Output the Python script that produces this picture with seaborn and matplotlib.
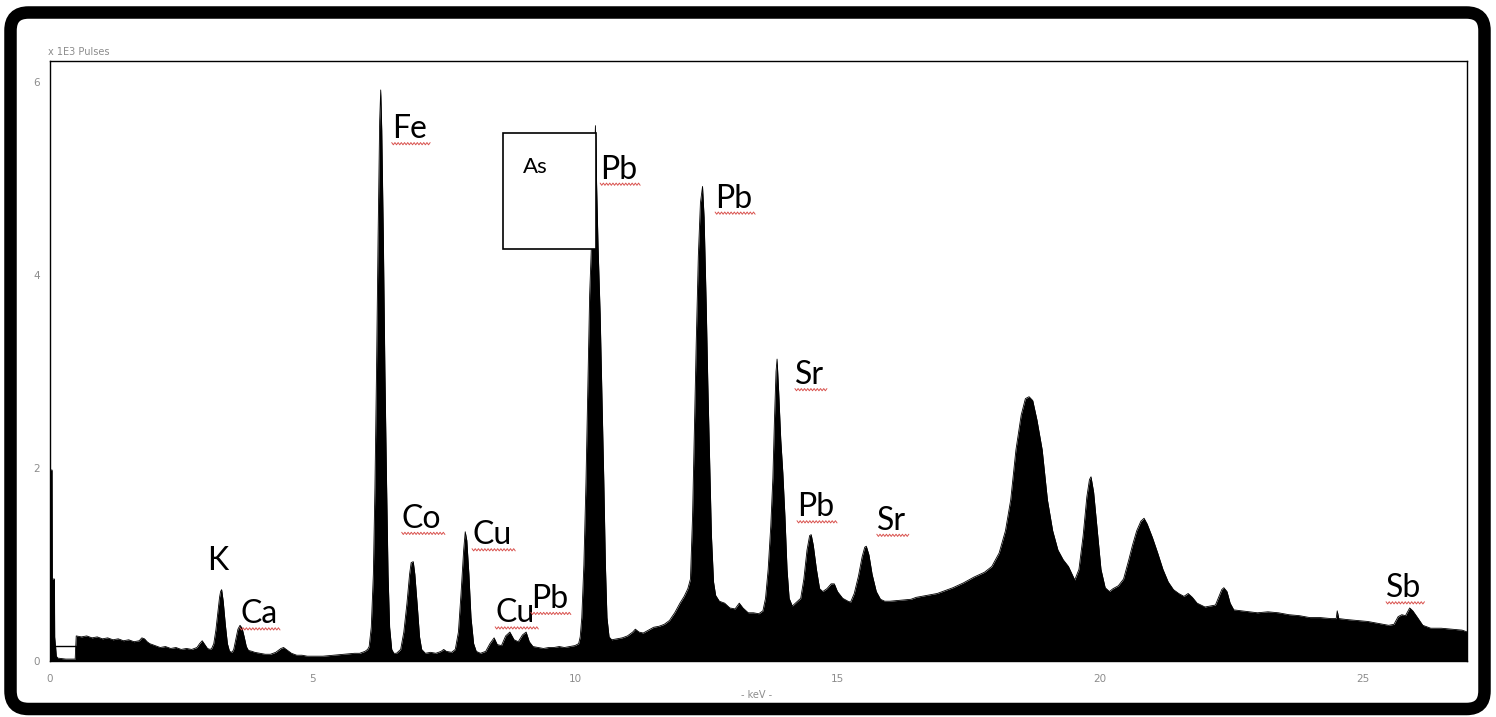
import numpy as np
import pandas as pd
import matplotlib
matplotlib.use("Agg")
import matplotlib.pyplot as plt
import seaborn as sns
from matplotlib.patches import Rectangle, FancyBboxPatch
from matplotlib.lines import Line2D
from matplotlib.transforms import IdentityTransform
from matplotlib.ticker import MultipleLocator

# spectrum: energy (keV) and pulses (x 1E3)
energy = [
    0.0, 0.005, 0.04, 0.045, 0.085, 0.09, 0.12, 0.15, 0.3, 0.48,
    0.5, 0.6, 0.7, 0.8, 0.9, 1.0, 1.1, 1.2, 1.3, 1.4, 1.5, 1.6, 1.7, 1.75, 1.8, 1.85, 1.9,
    2.0, 2.1, 2.2, 2.3, 2.4, 2.5, 2.6, 2.7, 2.8, 2.85, 2.9, 2.95, 3.0, 3.05,
    3.08, 3.12, 3.16, 3.2, 3.23, 3.25, 3.27, 3.3, 3.34, 3.38, 3.42, 3.47, 3.5,
    3.53, 3.58, 3.62, 3.66, 3.7, 3.74, 3.78, 3.85, 3.9, 4.0, 4.1, 4.2, 4.3, 4.4, 4.45,
    4.5, 4.6, 4.7, 4.8, 4.9, 5.0, 5.2, 5.4, 5.6, 5.8, 5.9, 6.0, 6.05,
    6.08, 6.12, 6.16, 6.19, 6.22, 6.25, 6.28, 6.30, 6.32, 6.35, 6.38, 6.41, 6.44, 6.47, 6.51, 6.55,
    6.6, 6.68, 6.74, 6.8, 6.85, 6.88, 6.92, 6.95, 7.0, 7.04, 7.08, 7.15, 7.25, 7.35, 7.45,
    7.5, 7.55, 7.65, 7.72,
    7.78, 7.83, 7.88, 7.91, 7.94, 7.98, 8.02, 8.07, 8.12, 8.2, 8.3, 8.38, 8.46, 8.52, 8.6,
    8.68, 8.76, 8.84, 8.92, 9.0, 9.07, 9.13, 9.2, 9.3, 9.4, 9.5, 9.6, 9.7, 9.8, 9.9, 10.0, 10.07,
    10.1, 10.13, 10.17, 10.21, 10.25, 10.28, 10.32, 10.36, 10.39, 10.41, 10.44, 10.48, 10.52,
    10.55, 10.58, 10.61, 10.65, 10.7, 10.8, 10.9, 11.0, 11.1, 11.15, 11.22, 11.3, 11.4, 11.5,
    11.6, 11.7, 11.8, 11.9, 12.0, 12.08, 12.15,
    12.2, 12.24, 12.27, 12.31, 12.35, 12.39, 12.43, 12.46, 12.5, 12.53, 12.56, 12.6, 12.64,
    12.68, 12.75, 12.85, 12.95, 13.05, 13.13, 13.2, 13.3, 13.4, 13.5, 13.58,
    13.63, 13.68, 13.73, 13.77, 13.8, 13.83, 13.85, 13.88, 13.92, 13.96, 14.0, 14.04, 14.08,
    14.14, 14.2,
    14.3, 14.36, 14.42, 14.47, 14.5, 14.54, 14.6, 14.66, 14.72, 14.8, 14.88, 14.94, 15.0,
    15.1, 15.2, 15.25,
    15.32, 15.4, 15.47, 15.52, 15.55, 15.6, 15.66, 15.74, 15.82, 15.9, 16.0, 16.2, 16.4,
    16.5, 16.7, 16.9, 17.0, 17.2, 17.4, 17.6, 17.8, 17.94, 18.08,
    18.2, 18.3, 18.4, 18.5, 18.58, 18.65, 18.72, 18.8, 18.9, 19.0, 19.1, 19.2, 19.3, 19.4, 19.52,
    19.6, 19.68, 19.75, 19.8, 19.83, 19.88, 19.95, 20.02, 20.1, 20.18, 20.25,
    20.35, 20.45, 20.55, 20.62, 20.7, 20.78, 20.84, 20.9, 21.0, 21.1, 21.2, 21.3, 21.4,
    21.5, 21.6, 21.68, 21.76, 21.85, 22.0, 22.1, 22.2,
    22.26, 22.32, 22.36, 22.42, 22.48, 22.55, 22.7, 22.85, 23.0, 23.2, 23.4, 23.6, 23.8,
    24.0, 24.2, 24.4, 24.5, 24.52, 24.55, 24.7, 24.9, 25.1, 25.3, 25.5, 25.6, 25.68,
    25.75, 25.82, 25.9, 25.96, 26.05, 26.15, 26.3, 26.5, 26.7, 26.9, 27.0,
]
pulses = [
    0.0, 1.98, 1.98, 0.85, 0.85, 0.25, 0.05, 0.03, 0.02, 0.02,
    0.26, 0.25, 0.26, 0.24, 0.25, 0.23, 0.24, 0.22, 0.23, 0.21, 0.22, 0.20, 0.21, 0.24, 0.23, 0.20, 0.18,
    0.16, 0.14, 0.15, 0.13, 0.14, 0.12, 0.13, 0.12, 0.14, 0.18, 0.21, 0.17, 0.13, 0.12,
    0.13, 0.18, 0.32, 0.52, 0.66, 0.72, 0.74, 0.62, 0.38, 0.18, 0.10, 0.09, 0.12,
    0.20, 0.33, 0.37, 0.34, 0.25, 0.15, 0.11, 0.10, 0.09, 0.08, 0.07, 0.07, 0.09, 0.13, 0.14,
    0.12, 0.08, 0.06, 0.06, 0.05, 0.05, 0.05, 0.06, 0.07, 0.08, 0.08, 0.10, 0.12,
    0.15, 0.35, 0.90, 1.80, 3.00, 4.40, 5.60, 5.92, 5.50, 4.40, 3.00, 1.90, 0.90, 0.35, 0.12, 0.08,
    0.08, 0.12, 0.30, 0.60, 0.90, 1.02, 1.03, 0.90, 0.55, 0.25, 0.12, 0.08, 0.09, 0.08, 0.10,
    0.12, 0.10, 0.09, 0.12,
    0.30, 0.70, 1.15, 1.34, 1.25, 0.90, 0.45, 0.18, 0.10, 0.08, 0.10, 0.18, 0.24, 0.17, 0.16,
    0.26, 0.30, 0.22, 0.20, 0.27, 0.30, 0.20, 0.15, 0.14, 0.13, 0.14, 0.14, 0.15, 0.14, 0.15, 0.16, 0.18,
    0.25, 0.45, 1.00, 1.86, 3.00, 3.80, 4.40, 5.00, 5.55, 5.00, 4.30, 3.60, 2.60,
    1.86, 1.00, 0.45, 0.25, 0.22, 0.23, 0.24, 0.26, 0.30, 0.33, 0.30, 0.29, 0.32, 0.35,
    0.36, 0.38, 0.42, 0.50, 0.60, 0.67, 0.75,
    0.85, 1.50, 2.27, 3.30, 4.20, 4.75, 4.92, 4.60, 3.70, 2.90, 2.20, 1.30, 0.82,
    0.68, 0.62, 0.60, 0.55, 0.54, 0.60, 0.55, 0.50, 0.50, 0.49, 0.52,
    0.65, 0.95, 1.40, 1.90, 2.50, 3.00, 3.13, 2.80, 2.30, 1.95, 1.50, 0.95, 0.65,
    0.57, 0.60,
    0.65, 0.85, 1.15, 1.30, 1.31, 1.20, 0.95, 0.75, 0.72, 0.75, 0.80, 0.80, 0.72,
    0.65, 0.62, 0.61,
    0.70, 0.88, 1.08, 1.18, 1.19, 1.10, 0.90, 0.72, 0.64, 0.62, 0.62, 0.63, 0.64,
    0.66, 0.68, 0.70, 0.72, 0.76, 0.81, 0.87, 0.92, 0.98, 1.12,
    1.35, 1.67, 2.19, 2.55, 2.72, 2.74, 2.70, 2.50, 2.19, 1.67, 1.35, 1.15, 1.05, 0.98, 0.84,
    0.95, 1.30, 1.70, 1.88, 1.91, 1.75, 1.35, 0.95, 0.76, 0.72, 0.75,
    0.78, 0.85, 1.05, 1.20, 1.35, 1.45, 1.48, 1.42, 1.28, 1.12, 0.95, 0.82, 0.74,
    0.70, 0.67, 0.70, 0.66, 0.60, 0.56, 0.57, 0.58,
    0.66, 0.74, 0.76, 0.72, 0.60, 0.53, 0.52, 0.51, 0.50, 0.51, 0.50, 0.48, 0.47,
    0.45, 0.45, 0.44, 0.44, 0.52, 0.44, 0.43, 0.42, 0.41, 0.39, 0.37, 0.38, 0.46,
    0.48, 0.47, 0.55, 0.52, 0.45, 0.37, 0.34, 0.34, 0.33, 0.32, 0.30,
]

# element labels: text, keV, pulses (baseline), underlined?
labels = ["Fe", "Pb", "Pb", "Sr", "Pb", "Sr", "Co", "Cu", "Cu", "Pb", "K", "Ca", "Sb"]
label_x = [6.51, 10.48, 12.67, 14.19, 14.23, 15.75, 6.70, 8.04, 8.48, 9.16, 2.99, 3.62, 25.45]
label_y = [5.42, 5.00, 4.70, 2.87, 1.50, 1.36, 1.38, 1.21, 0.40, 0.55, 0.94, 0.39, 0.66]
wavy = [True] * 10 + [False, True, True]

spec = pd.DataFrame({"keV": energy, "pulses": pulses})

sns.set_style("white")
plt.rcParams["font.family"] = ["DejaVu Sans"]

fig = plt.figure(figsize=(14.96, 7.17), dpi=100)
ax = fig.add_axes([0.0334, 0.0781, 0.9475, 0.8368])

ax.fill_between(spec["keV"], spec["pulses"], color="black", lw=0, zorder=2)
sns.lineplot(data=spec, x="keV", y="pulses", color="black", lw=0.6, estimator=None, ax=ax, zorder=3)

ax.set_xlim(0, 27)
ax.set_ylim(0, 6.22)
ax.set_xlabel("")
ax.set_ylabel("")
ax.xaxis.set_major_locator(MultipleLocator(5))
ax.xaxis.set_minor_locator(MultipleLocator(1))
ax.yaxis.set_major_locator(MultipleLocator(2))
ax.yaxis.set_minor_locator(MultipleLocator(0.5))
ax.tick_params(axis="both", which="both", direction="out", length=5, width=0.8,
               color="#333333", labelcolor="#8c8c8c", labelsize=7.5)
ax.tick_params(axis="x", which="both", pad=4)
ax.tick_params(axis="y", which="both", pad=2)
for s in ax.spines.values():
    s.set_color("black")
    s.set_linewidth(1.0)

# window marker near 0 keV and the As box
ax.add_patch(Rectangle((0.1, 0), 0.4, 0.155, fill=False, ec="black", lw=1.0, zorder=4))
ax.add_patch(Rectangle((8.63, 4.27), 1.77, 1.2, fc="white", ec="black", lw=1.2, zorder=5))
ax.text(9.01, 5.06, "As", fontsize=16, family=["Lato", "DejaVu Sans"], color="black", zorder=6)

texts = []
for lab, x, y in zip(labels, label_x, label_y):
    t = ax.text(x, y, lab, fontsize=23, family=["Lato", "DejaVu Sans"], color="black",
                ha="left", va="baseline", zorder=6)
    texts.append(t)

fig.text(0.032, 0.923, "x 1E3 Pulses", fontsize=7, color="#8c8c8c", ha="left", va="baseline")
fig.text(0.506, 0.031, "- keV -", fontsize=7, color="#8c8c8c", ha="center", va="center")

# red spell-check underline under labels
fig.canvas.draw()
for t, w in zip(texts, wavy):
    if not w:
        continue
    bb = t.get_window_extent()
    base = ax.transData.transform(t.get_position())[1]
    xs = np.arange(bb.x0, bb.x1 + 4, 1.6)
    ys = base - 5.5 + 1.1 * np.where(np.arange(len(xs)) % 2 == 0, 1, -1)
    fig.add_artist(Line2D(xs, ys, transform=IdentityTransform(), color="#d9534f", lw=0.7))

# thick rounded frame around the picture
frame = FancyBboxPatch((10.5, 8), 1474, 696.5, boxstyle="round,pad=0,rounding_size=18",
                       transform=IdentityTransform(), fill=False, ec="black", lw=9)
fig.add_artist(frame)

fig.savefig("out.png", dpi=100)
